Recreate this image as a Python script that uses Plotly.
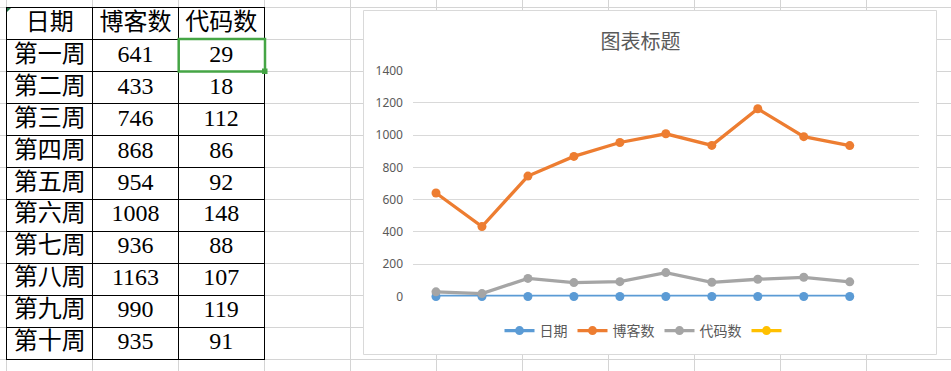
import plotly.graph_objects as go

# ---------------- data ----------------
header = ["日期", "博客数", "代码数"]
weeks = ["第一周", "第二周", "第三周", "第四周", "第五周",
         "第六周", "第七周", "第八周", "第九周", "第十周"]
blog_counts = [641, 433, 746, 868, 954, 1008, 936, 1163, 990, 935]
code_counts = [29, 18, 112, 86, 92, 148, 88, 107, 119, 91]
date_values = [0, 0, 0, 0, 0, 0, 0, 0, 0, 0]   # text column, plotted as 0
empty_series = [None, None, None, None, None, None, None, None, None, None]  # blank 4th series
series_names = ["日期", "博客数", "代码数", " "]
y_ticks = [0, 200, 400, 600, 800, 1000, 1200, 1400]
chart_title = "图表标题"

# ---------------- layout helpers ----------------
W, H = 951, 371
def px(x):
    return x / W
def py(y):
    return 1 - y / H

colors = ["#5B9BD5", "#ED7D31", "#A5A5A5", "#FFC000"]
fig = go.Figure()

# ---------------- chart series ----------------
for name, vals, c in zip(series_names,
                         [date_values, blog_counts, code_counts, empty_series],
                         colors):
    fig.add_trace(go.Scatter(
        x=list(range(1, len(vals) + 1)), y=vals, name=name,
        mode="lines+markers",
        line=dict(color=c, width=3.3),
        marker=dict(color=c, size=9),
        xaxis="x3", yaxis="y3", cliponaxis=False, hoverinfo="skip"))

# ---------------- table cells ----------------
cx, cy, ct = [], [], []
for j, h in enumerate(header):
    cx.append(j); cy.append(0); ct.append(h)
for i in range(len(weeks)):
    for j, v in enumerate([weeks[i], blog_counts[i], code_counts[i]]):
        cx.append(j); cy.append(i + 1); ct.append(str(v))
fig.add_trace(go.Scatter(
    x=cx, y=cy, text=ct, mode="text", textposition="middle center",
    textfont=dict(family="Liberation Serif, Noto Sans CJK SC", size=24, color="black"),
    xaxis="x2", yaxis="y2", showlegend=False, hoverinfo="skip", cliponaxis=False))

n_rows = len(weeks) + 1
n_cols = len(header)
tx0, tx1 = 7, 264
ty0, ty1 = 8, 359
col_bounds = [92.5, 178.5]
row_bounds = [7.5 + 32 * (r + 1) for r in range(n_rows - 1)]
x2_ticks = [(b - tx0) / (tx1 - tx0) * n_cols - 0.5 for b in col_bounds]
y2_ticks = [(b - ty0) / (ty1 - ty0) * n_rows - 0.5 for b in row_bounds]

axis_common_tbl = dict(showticklabels=False, ticks="", zeroline=False,
                       showgrid=True, gridcolor="black", gridwidth=1,
                       showline=True, mirror=True, linecolor="black", linewidth=1,
                       tickmode="array", fixedrange=True, automargin=False)

# ---------------- shapes: sheet grid, chart box, selection ----------------
shapes = []
for k in range(12):
    x = 6.5 + 86 * k
    shapes.append(dict(type="line", xref="paper", yref="paper", x0=px(x), x1=px(x),
                       y0=0, y1=1, line=dict(color="#D4D4D4", width=1), layer="below"))
for k in range(13):
    y = 7.5 + 32 * k
    shapes.append(dict(type="line", xref="paper", yref="paper", x0=0, x1=1,
                       y0=py(y), y1=py(y), line=dict(color="#D4D4D4", width=1), layer="below"))
shapes.append(dict(type="rect", xref="paper", yref="paper",
                   x0=px(363.5), x1=px(936.5), y0=py(354.5), y1=py(10.5),
                   fillcolor="white", line=dict(color="#D9D9D9", width=1), layer="below"))
# selected cell outline + fill handle
shapes.append(dict(type="rect", xref="paper", yref="paper",
                   x0=px(178.7), x1=px(265), y0=py(71.5), y1=py(39),
                   line=dict(color="#45A545", width=2.5), layer="above"))
shapes.append(dict(type="rect", xref="paper", yref="paper",
                   x0=px(262), x1=px(267.5), y0=py(74), y1=py(68.5),
                   fillcolor="#45A545", line=dict(width=0), layer="above"))
# small corner triangle in A1
shapes.append(dict(type="path", xref="paper", yref="paper",
                   path=f"M {px(7)} {py(8)} L {px(11)} {py(8)} L {px(7)} {py(12)} Z",
                   fillcolor="#217346", line=dict(width=0), layer="above"))

fig.update_layout(
    template="none",
    width=W, height=H, margin=dict(l=0, r=0, t=0, b=0, pad=0, autoexpand=False),
    paper_bgcolor="white", plot_bgcolor="rgba(0,0,0,0)",
    showlegend=True,
    title=dict(text=chart_title, x=px(640.5), y=py(42), xanchor="center", yanchor="middle",
               font=dict(family="Noto Sans CJK SC", size=20, color="#595959")),
    legend=dict(orientation="h", x=px(647.5), y=py(331), xanchor="center", yanchor="middle",
                font=dict(family="Noto Sans CJK SC", size=14, color="#595959"),
                bgcolor="rgba(0,0,0,0)", itemwidth=30, itemclick=False, itemdoubleclick=False),
    xaxis2=dict(domain=[px(tx0), px(tx1)], range=[-0.5, n_cols - 0.5], anchor="y2",
                tickvals=x2_ticks, **axis_common_tbl),
    yaxis2=dict(domain=[py(ty1), py(ty0)], range=[n_rows - 0.5, -0.5], anchor="x2",
                tickvals=y2_ticks, **axis_common_tbl),
    xaxis3=dict(domain=[px(413), px(918.7)], range=[0.5, 11.5], anchor="y3",
                showticklabels=False, showgrid=False, zeroline=False, showline=False,
                ticks="", fixedrange=True, automargin=False),
    yaxis3=dict(domain=[py(296.5), py(70.5)], range=[0, 1400], anchor="x3",
                tickmode="array", tickvals=y_ticks, showgrid=True, gridcolor="#D9D9D9",
                gridwidth=1, zeroline=False, showline=False, ticks="",
                ticklabelstandoff=9, automargin=False,
                tickfont=dict(family="Noto Sans", size=12, color="#595959"),
                fixedrange=True),
    shapes=shapes,
)

fig.write_html("out.html", config={"displayModeBar": False},
               post_script="document.body.style.margin='0px';")
